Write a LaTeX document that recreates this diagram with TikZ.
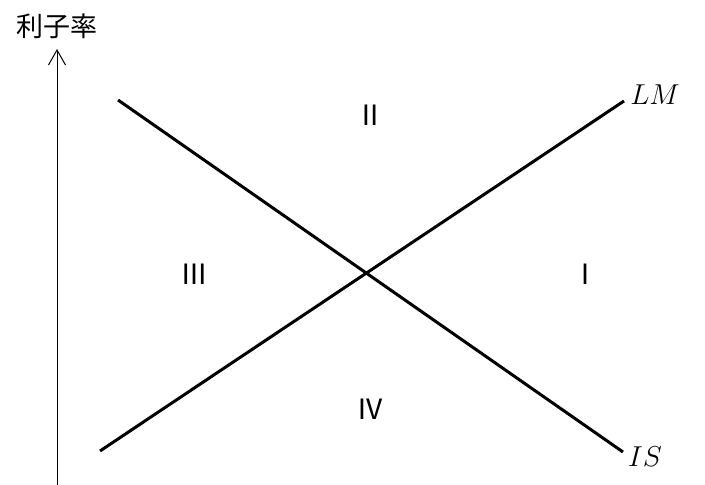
\documentclass[tikz,border=0pt]{standalone}
\usepackage{fontspec}
\setmainfont{Latin Modern Roman}
\newfontfamily\cjkfont{Noto Sans CJK JP}
\usetikzlibrary{arrows.meta,calc}

\begin{document}
\begin{tikzpicture}[x=0.5pt, y=-0.5pt, >={Straight Barb[length=7.5pt,width=8.5pt]},
    curve/.style={line width=1.5pt},
    axis/.style={->, line width=0.5pt},
    region/.style={font=\cjkfont\fontsize{14}{16}\selectfont, inner sep=0pt},
    curvelabel/.style={font=\fontsize{14.5}{17}\selectfont, inner sep=0pt}]
\useasboundingbox (0,0) rectangle (705,485);

    % axis
    \coordinate (o) at (57,485);
    \coordinate (top) at (57,49);
    \draw [axis] (o) -- (top);
    \node [font=\cjkfont\fontsize{13.5}{16}\selectfont, inner sep=0pt] (rate) at (57,26) {利子率};

    % IS and LM curves
    \coordinate (is0) at (118,100);
    \coordinate (is1) at (623,452);
    \coordinate (lm0) at (100,451);
    \coordinate (lm1) at (624,101);
    \draw [curve] (is0) -- (is1);
    \draw [curve] (lm0) -- (lm1);
    \node [curvelabel] (lm) at (655,95) {$LM$};
    \node [curvelabel] (is) at (645,457) {$IS$};

    % regions
    \node [region] (r1) at (585,274) {Ⅰ};
    \node [region] (r2) at (370,115) {Ⅱ};
    \node [region] (r3) at (194,274) {Ⅲ};
    \node [region] (r4) at (370,409) {Ⅳ};
\end{tikzpicture}
\end{document}
